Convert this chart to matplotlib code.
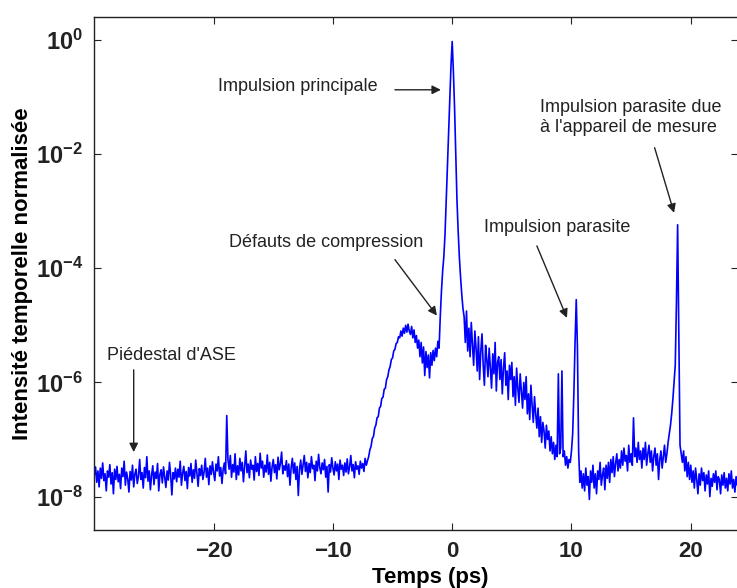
import numpy as np
import matplotlib
matplotlib.use('Agg')
import matplotlib.pyplot as plt

plt.rcParams['font.family'] = ['Liberation Sans', 'DejaVu Sans']
plt.rcParams['mathtext.fontset'] = 'custom'
plt.rcParams['mathtext.rm'] = 'Liberation Sans'
plt.rcParams['mathtext.bf'] = 'Liberation Sans:bold'

# Time axis (ps): trace sampled every 0.1 ps, starting at -30 ps
t_start = -30.0
t_step = 0.1

# log10 of the normalised temporal intensity (one row = 1 ps)
log_intensity = [
    -7.62, -7.48, -7.75, -7.55, -7.83, -7.50, -7.68, -7.41, -7.72, -7.60,   # -30
    -7.90, -7.55, -7.66, -7.44, -7.78, -7.58, -7.95, -7.52, -7.70, -7.47,   # -29
    -7.74, -7.61, -7.86, -7.50, -7.65, -7.38, -7.80, -7.57, -7.69, -7.92,   # -28
    -7.56, -7.71, -7.45, -7.83, -7.60, -7.52, -7.77, -7.64, -7.35, -7.70,   # -27
    -7.58, -7.85, -7.49, -7.67, -7.30, -7.73, -7.55, -7.88, -7.62, -7.46,   # -26
    -7.79, -7.57, -7.68, -7.42, -7.90, -7.61, -7.53, -7.76, -7.48, -7.66,   # -25
    -7.84, -7.55, -7.71, -7.40, -7.63, -7.97, -7.58, -7.69, -7.50, -7.74,   # -24
    -7.52, -7.66, -7.38, -7.80, -7.59, -7.47, -7.72, -7.56, -7.86, -7.49,   # -23
    -7.64, -7.42, -7.75, -7.53, -7.68, -7.36, -7.60, -7.82, -7.51, -7.63,   # -22
    -7.45, -7.70, -7.57, -7.33, -7.66, -7.50, -7.79, -7.46, -7.61, -7.39,   # -21
    -7.58, -7.72, -7.43, -7.55, -7.30, -7.64, -7.49, -7.77, -7.52, -7.41,   # -20
    -7.60, -6.58, -7.35, -7.52, -7.28, -7.66, -7.44, -7.57, -7.25, -7.70,   # -19
    -7.46, -7.62, -7.33, -7.55, -7.40, -7.74, -7.48, -7.20, -7.58, -7.43,   # -18
    -7.67, -7.36, -7.52, -7.45, -7.71, -7.30, -7.56, -7.42, -7.63, -7.24,   # -17
    -7.50, -7.38, -7.66, -7.45, -7.57, -7.27, -7.61, -7.40, -7.73, -7.48,   # -16
    -7.35, -7.58, -7.44, -7.69, -7.31, -7.53, -7.42, -7.22, -7.60, -7.46,   # -15
    -7.54, -7.37, -7.65, -7.43, -7.80, -7.49, -7.33, -7.59, -7.41, -7.70,   # -14
    -7.47, -7.98, -7.52, -7.36, -7.61, -7.44, -7.28, -7.56, -7.40, -7.67,   # -13
    -7.42, -7.58, -7.30, -7.51, -7.45, -7.72, -7.38, -7.55, -7.26, -7.49,   # -12
    -7.60, -7.41, -7.53, -7.35, -7.66, -7.47, -7.92, -7.44, -7.57, -7.32,   # -11
    -7.50, -7.62, -7.39, -7.55, -7.43, -7.70, -7.36, -7.52, -7.45, -7.63,   # -10
    -7.41, -7.57, -7.34, -7.60, -7.48, -7.28, -7.55, -7.44, -7.67, -7.39,   # -9
    -7.52, -7.46, -7.61, -7.38, -7.50, -7.42, -7.56, -7.33, -7.45, -7.37,   # -8
    -7.30, -7.18, -7.12, -6.98, -6.95, -6.80, -6.75, -6.62, -6.60, -6.45,   # -7
    -6.42, -6.28, -6.26, -6.12, -6.10, -5.95, -5.90, -5.78, -5.72, -5.60,   # -6
    -5.57, -5.45, -5.42, -5.32, -5.30, -5.20, -5.22, -5.10, -5.19, -5.05,   # -5
    -5.14, -5.00, -5.12, -4.98, -5.10, -5.16, -5.02, -5.22, -5.08, -5.30,   # -4
    -5.18, -5.40, -5.26, -5.55, -5.30, -5.66, -5.38, -5.88, -5.46, -5.74,   # -3
    -5.52, -5.92, -5.48, -5.70, -5.44, -5.62, -5.40, -5.55, -5.28, -5.40,   # -2
    -4.85, -4.40, -4.05, -3.80, -3.40, -2.80, -2.20, -1.60, -1.05, -0.45,   # -1
    -0.03, -0.55, -1.20, -2.00, -2.80, -3.35, -3.80, -4.15, -4.45, -4.70,   # 0
    -4.85, -5.30, -4.75, -5.45, -5.05, -5.55, -4.95, -5.35, -5.70, -5.10,   # 1
    -5.40, -5.80, -5.20, -5.95, -5.45, -5.15, -5.70, -6.05, -5.35, -5.60,   # 2
    -5.90, -5.40, -5.75, -6.10, -5.50, -5.85, -5.30, -6.15, -5.65, -5.55,   # 3
    -5.95, -5.60, -6.20, -5.75, -5.48, -6.05, -5.80, -6.30, -5.70, -5.95,   # 4
    -5.65, -6.25, -5.90, -6.40, -5.75, -6.10, -6.35, -5.85, -6.15, -6.45,   # 5
    -6.00, -6.30, -5.90, -6.55, -6.20, -6.65, -6.05, -6.40, -6.70, -6.25,   # 6
    -6.55, -6.80, -6.45, -6.95, -6.60, -7.05, -6.70, -6.85, -7.15, -6.75,   # 7
    -7.00, -6.85, -7.20, -6.95, -7.25, -7.05, -7.35, -7.10, -7.30, -5.85,   # 8
    -7.25, -7.15, -5.80, -7.30, -7.20, -7.45, -7.30, -7.50, -7.35, -7.40,   # 9
    -7.20, -6.90, -6.20, -5.30, -4.55, -5.40, -7.20, -7.75, -7.55, -7.85,   # 10
    -7.60, -7.90, -7.50, -7.80, -7.65, -8.05, -7.55, -7.75, -7.45, -7.85,   # 11
    -7.60, -7.95, -7.55, -7.70, -7.40, -7.80, -7.62, -7.50, -7.88, -7.45,   # 12
    -7.68, -7.40, -7.75, -7.35, -7.58, -7.30, -7.65, -7.42, -7.25, -7.55,   # 13
    -7.35, -7.50, -7.20, -7.45, -7.15, -7.38, -7.28, -7.55, -7.10, -7.40,   # 14
    -7.25, -7.45, -6.62, -7.30, -7.15, -7.40, -7.05, -7.35, -7.20, -7.50,   # 15
    -7.15, -7.35, -7.05, -7.45, -7.25, -7.10, -7.40, -7.20, -7.55, -7.30,   # 16
    -7.15, -7.45, -7.25, -7.70, -7.35, -7.20, -7.50, -7.30, -7.10, -7.40,   # 17
    -7.25, -7.05, -6.90, -6.75, -6.55, -6.30, -6.00, -5.70, -4.60, -3.24,   # 18
    -5.20, -7.10, -7.25, -7.40, -7.20, -7.55, -7.30, -7.65, -7.40, -7.70,   # 19
    -7.45, -7.75, -7.55, -7.85, -7.50, -7.70, -7.95, -7.60, -7.80, -7.50,   # 20
    -7.72, -7.58, -7.90, -7.62, -7.78, -7.55, -8.00, -7.68, -7.82, -7.60,   # 21
    -7.75, -7.55, -7.88, -7.65, -7.70, -7.95, -7.62, -7.80, -7.58, -7.85,   # 22
    -7.68, -7.90, -7.60, -7.78, -7.55, -7.85, -7.70, -7.92, -7.65, -7.80,   # 23
    -7.72,
]

x_ticks = [-20, -10, 0, 10, 20]
x_tick_labels = ['\u221220', '\u221210', '0', '10', '20']
y_tick_exponents = [0, -2, -4, -6, -8]

t = t_start + t_step * np.arange(len(log_intensity))
intensity = 10.0 ** np.array(log_intensity)

fig = plt.figure(figsize=(7.37, 5.88), dpi=100)
ax = fig.add_axes([0.128, 0.0986, 0.874, 0.8724])

ax.plot(t, intensity, color='#0000ff', lw=1.2)

ax.set_yscale('log')
ax.set_xlim(-30, 24)
ax.set_ylim(2.6e-9, 2.5)

ax.set_xticks(x_ticks)
ax.set_xticklabels(x_tick_labels, fontsize=16, fontweight='bold')
ax.set_yticks([10.0 ** e for e in y_tick_exponents])
ax.set_yticklabels([r'$\mathbf{10^{%d}}$' % e for e in y_tick_exponents], fontsize=17)
ax.minorticks_off()
ax.tick_params(direction='in', length=5, width=0.8, top=True, right=True, pad=8, colors='#222222')
for s in ax.spines.values():
    s.set_linewidth(1.0)
    s.set_color('#222222')

ax.set_xlabel('Temps (ps)', fontsize=16, fontweight='bold', va='center')
ax.xaxis.set_label_coords(0.521, -0.092)
ax.set_ylabel('Intensité temporelle normalisée', fontsize=16, fontweight='bold', va='center')
ax.yaxis.set_label_coords(-0.111, 0.5)

# annotations (text + arrows)
fnt = dict(fontsize=13, color='#222222', va='center', ha='left')
arr = dict(arrowstyle='-|>', color='#222222', lw=1.0, mutation_scale=13, shrinkA=0, shrinkB=0)

ax.text(-19.6, 10 ** -0.82, 'Impulsion principale', **fnt)
ax.annotate('', xy=(-0.95, 10 ** -0.876), xytext=(-4.8, 10 ** -0.876), arrowprops=arr)

ax.text(7.36, 10 ** -1.357, 'Impulsion parasite due\nà l\'appareil de mesure', linespacing=1.2, **fnt)
ax.annotate('', xy=(18.6, 10 ** -3.03), xytext=(16.97, 10 ** -1.89), arrowprops=arr)

ax.text(2.66, 10 ** -3.29, 'Impulsion parasite', **fnt)
ax.annotate('', xy=(9.62, 10 ** -4.87), xytext=(7.1, 10 ** -3.61), arrowprops=arr)

ax.text(-18.73, 10 ** -3.555, 'Défauts de compression', **fnt)
ax.annotate('', xy=(-1.28, 10 ** -4.83), xytext=(-4.8, 10 ** -3.85), arrowprops=arr)

ax.text(-28.97, 10 ** -5.534, 'Piédestal d\'ASE', **fnt)
ax.annotate('', xy=(-26.7, 10 ** -7.22), xytext=(-26.7, 10 ** -5.78), arrowprops=arr)

fig.savefig('out.png', dpi=100)
